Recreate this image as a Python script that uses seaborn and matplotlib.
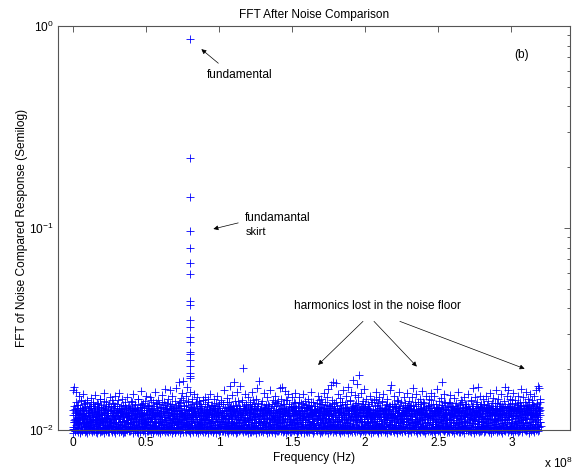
import numpy as np
import pandas as pd
import matplotlib
matplotlib.use("Agg")
import matplotlib.pyplot as plt
import seaborn as sns
from matplotlib.ticker import FixedLocator, LogLocator, NullFormatter

# noise floor, one value per frequency bin (units of 1e-4)
noise_floor_e4 = [
    101, 158, 112, 163, 104, 127, 99, 118, 155, 108, 133, 102, 121, 147, 110, 98, 125, 106, 139, 115,
    100, 129, 109, 151, 103, 117, 136, 105, 122, 99, 113, 141, 107, 126, 101, 119, 131, 104, 111, 144,
    106, 123, 100, 137, 114, 102, 128, 109, 149, 116, 98, 124, 105, 112, 134, 101, 120, 108, 143, 103,
    127, 111, 99, 118, 130, 106, 153, 113, 102, 125, 107, 138, 100, 115, 121, 104, 132, 110, 98, 146,
    112, 103, 126, 108, 140, 99, 119, 105, 131, 114, 101, 148, 110, 123, 100, 135, 107, 117, 102, 128,
    152, 106, 113, 99, 124, 109, 142, 104, 120, 111, 98, 133, 105, 116, 127, 101, 145, 108, 122, 103,
    118, 100, 129, 107, 113, 139, 102, 124, 110, 99, 150, 115, 104, 121, 133, 106, 111, 98, 126, 143,
    103, 117, 108, 130, 101, 122, 114, 156, 105, 119, 100, 136, 109, 125, 102, 112, 147, 107, 118, 99,
    104, 132, 111, 100, 123, 145, 106, 115, 101, 128, 109, 138, 98, 119, 105, 154, 113, 102, 126, 108,
    134, 100, 117, 141, 103, 121, 110, 99, 130, 106, 149, 114, 101, 124, 107, 137, 104, 116, 159, 102,
    110, 127, 99, 142, 105, 118, 101, 135, 112, 157, 103, 122, 108, 147, 100, 129, 115, 106, 139, 98,
    124, 161, 104, 117, 109, 133, 102, 173, 111, 126, 100, 144, 107, 120, 152, 103, 175, 113, 131, 105,
    119, 101, 148, 108, 164, 114, 102, 137, 106, 125, 99, 155, 111, 130, 104, 143, 117, 100, 128, 109,
    150, 103, 121, 136, 98, 113, 146, 105, 124, 101, 139, 110, 118, 102, 132, 107, 127, 100, 115, 141,
    103, 122, 109, 145, 100, 117, 131, 105, 112, 99, 138, 108, 126, 101, 151, 114, 104, 120, 133, 98,
    111, 142, 106, 124, 102, 129, 116, 100, 147, 109, 119, 103, 135, 107, 125, 99, 113, 140, 105, 121,
    111, 100, 134, 107, 158, 115, 102, 126, 109, 144, 99, 121, 105, 137, 113, 101, 130, 165, 104, 118,
    108, 149, 100, 124, 173, 106, 117, 139, 102, 127, 110, 98, 155, 114, 103, 132, 108, 122, 166, 101,
    119, 106, 141, 100, 203, 112, 128, 104, 150, 109, 99, 133, 116, 102, 146, 107, 123, 101, 138, 113,
    105, 127, 98, 154, 110, 120, 103, 135, 108, 117, 100, 143, 106, 125, 162, 111, 102, 131, 114, 175,
    104, 124, 110, 99, 139, 106, 117, 101, 152, 113, 103, 129, 108, 121, 100, 145, 115, 105, 134, 98,
    119, 109, 157, 102, 126, 112, 100, 140, 107, 118, 132, 104, 111, 148, 101, 123, 106, 136, 99, 114,
    116, 102, 161, 108, 127, 100, 143, 111, 164, 105, 120, 134, 99, 113, 156, 103, 125, 109, 140, 101,
    118, 150, 106, 131, 98, 114, 128, 104, 146, 110, 122, 100, 137, 107, 119, 153, 102, 126, 112, 99,
    108, 130, 101, 119, 145, 105, 112, 99, 136, 115, 103, 124, 109, 150, 100, 121, 107, 139, 113, 102,
    128, 98, 143, 110, 117, 104, 133, 106, 126, 101, 155, 111, 120, 100, 138, 108, 115, 131, 103, 123,
    101, 127, 113, 100, 148, 106, 119, 104, 135, 110, 99, 142, 116, 102, 129, 108, 153, 103, 122, 111,
    137, 100, 118, 146, 105, 125, 160, 109, 114, 132, 101, 167, 107, 120, 141, 103, 172, 112, 126, 100,
    114, 105, 170, 101, 131, 109, 150, 103, 123, 116, 99, 144, 107, 128, 100, 138, 112, 104, 158, 110,
    119, 102, 135, 106, 147, 113, 100, 125, 108, 163, 101, 121, 140, 105, 117, 155, 103, 129, 111, 176,
    107, 124, 100, 149, 112, 136, 103, 168, 109, 118, 145, 101, 187, 114, 127, 105, 152, 99, 121, 110,
    139, 102, 116, 160, 106, 130, 100, 143, 113, 119, 104, 134, 108, 125, 99, 147, 111, 122, 102, 137,
    103, 118, 110, 141, 100, 126, 106, 113, 154, 101, 122, 108, 136, 99, 117, 145, 104, 129, 111, 100,
    139, 107, 120, 102, 150, 114, 105, 127, 98, 133, 109, 116, 143, 103, 124, 100, 131, 112, 106, 158,
    112, 167, 104, 135, 100, 122, 109, 148, 116, 102, 130, 106, 119, 99, 141, 110, 125, 103, 155, 108,
    117, 101, 137, 113, 100, 128, 105, 146, 111, 121, 99, 133, 107, 115, 152, 102, 124, 109, 139, 104,
    100, 131, 108, 119, 146, 103, 114, 161, 106, 125, 101, 138, 111, 99, 150, 109, 122, 104, 134, 115,
    100, 128, 107, 143, 102, 118, 112, 156, 105, 127, 99, 136, 110, 120, 103, 148, 108, 116, 101, 132,
    117, 104, 142, 109, 126, 100, 153, 112, 103, 135, 107, 121, 99, 147, 114, 105, 130, 101, 160, 110,
    118, 102, 139, 106, 124, 100, 144, 113, 108, 172, 103, 127, 111, 150, 99, 119, 136, 105, 122, 101,
    109, 125, 100, 138, 114, 103, 120, 149, 106, 112, 99, 131, 117, 101, 144, 108, 123, 104, 136, 110,
    100, 127, 115, 102, 154, 107, 119, 133, 98, 113, 141, 105, 124, 101, 129, 111, 103, 146, 108, 118,
    102, 134, 110, 120, 100, 151, 106, 127, 113, 99, 140, 104, 118, 132, 108, 162, 101, 123, 112, 145,
    103, 116, 100, 138, 107, 126, 164, 105, 119, 111, 148, 99, 130, 109, 121, 102, 142, 114, 106, 135,
    115, 101, 128, 108, 147, 104, 122, 110, 139, 100, 117, 153, 106, 131, 102, 125, 113, 99, 144, 109,
    120, 103, 136, 107, 158, 111, 100, 129, 105, 142, 118, 102, 134, 112, 124, 99, 150, 108, 116, 104,
    106, 139, 100, 163, 112, 125, 103, 147, 109, 118, 101, 157, 114, 130, 105, 143, 99, 121, 110, 136,
    102, 152, 107, 127, 115, 100, 141, 108, 119, 133, 104, 148, 111, 123, 99, 138, 106, 129, 160, 102,
    113, 100, 145, 108, 124, 103, 137, 110, 155, 101, 119, 131, 106, 142, 99, 127, 114, 150, 104, 121,
    109, 140, 102, 133, 116, 100, 148, 107, 125, 112, 158, 103, 136, 118, 166, 105, 129, 161, 110, 143,
]

# the in-between bins, mostly hugging the bottom of the plot
noise_floor_mid_e4 = [
    103, 97, 110, 101, 118, 99, 106, 123, 100, 112, 98, 104, 115, 102, 108, 97, 120, 105, 100, 113,
    99, 107, 126, 101, 109, 98, 116, 103, 100, 111, 105, 97, 121, 102, 108, 99, 114, 104, 131, 100,
    98, 109, 102, 117, 100, 105, 99, 112, 124, 101, 107, 97, 114, 103, 100, 119, 106, 98, 110, 102,
    128, 99, 104, 113, 100, 108, 97, 122, 101, 106, 99, 115, 103, 111, 98, 100, 118, 105, 102, 109,
    106, 100, 113, 98, 104, 121, 101, 108, 99, 116, 103, 97, 110, 105, 100, 125, 102, 107, 98, 114,
    101, 104, 119, 99, 111, 100, 106, 97, 117, 103, 109, 101, 98, 123, 105, 100, 112, 102, 107, 99,
    101, 115, 104, 99, 108, 100, 127, 103, 110, 97, 105, 118, 101, 99, 113, 106, 100, 121, 102, 97,
    109, 104, 116, 100, 98, 111, 107, 101, 133, 99, 105, 114, 102, 100, 108, 97, 120, 103, 106, 100,
    109, 99, 104, 122, 100, 107, 98, 113, 102, 116, 101, 97, 106, 119, 100, 103, 111, 99, 105, 126,
    101, 98, 108, 114, 100, 104, 97, 117, 102, 110, 99, 106, 101, 124, 103, 100, 112, 98, 107, 101,
    100, 112, 103, 98, 118, 105, 101, 109, 99, 129, 102, 106, 97, 114, 100, 104, 120, 101, 98, 111,
    107, 100, 116, 103, 99, 108, 136, 102, 105, 97, 113, 100, 122, 104, 101, 110, 98, 117, 106, 100,
    104, 98, 115, 101, 107, 100, 124, 103, 99, 111, 105, 97, 119, 102, 108, 100, 113, 98, 106, 127,
    101, 104, 99, 116, 103, 100, 110, 97, 121, 105, 101, 108, 99, 114, 102, 106, 100, 118, 103, 98,
    107, 101, 98, 113, 104, 100, 120, 102, 109, 97, 116, 105, 100, 103, 125, 99, 108, 101, 111, 98,
    104, 117, 100, 106, 102, 97, 114, 101, 109, 123, 100, 103, 98, 110, 105, 100, 119, 102, 107, 99,
    99, 110, 102, 117, 100, 105, 98, 121, 103, 108, 101, 97, 114, 106, 100, 128, 102, 99, 111, 104,
    100, 116, 98, 107, 101, 124, 103, 100, 109, 97, 113, 105, 101, 119, 99, 106, 102, 112, 100, 104,
    105, 100, 118, 103, 98, 110, 101, 126, 99, 107, 104, 100, 115, 102, 97, 112, 106, 101, 120, 98,
    104, 109, 100, 131, 102, 99, 113, 105, 100, 117, 103, 97, 108, 101, 122, 104, 100, 111, 98, 106,
    102, 114, 99, 106, 100, 119, 104, 98, 111, 101, 127, 103, 100, 108, 97, 116, 105, 101, 110, 99,
    123, 102, 106, 100, 113, 98, 104, 118, 101, 107, 100, 97, 115, 103, 109, 100, 121, 99, 105, 102,
    108, 100, 103, 121, 99, 105, 112, 101, 98, 117, 104, 100, 109, 126, 102, 97, 106, 114, 100, 103,
    99, 119, 107, 101, 111, 98, 104, 130, 100, 106, 102, 113, 99, 108, 101, 124, 103, 100, 110, 97,
    101, 107, 99, 115, 103, 100, 122, 105, 98, 110, 101, 117, 104, 100, 97, 112, 106, 102, 128, 99,
    104, 109, 100, 116, 103, 98, 107, 101, 120, 105, 100, 111, 97, 114, 102, 106, 99, 125, 104, 100,
    106, 99, 112, 102, 118, 100, 104, 97, 124, 107, 101, 110, 98, 115, 103, 100, 129, 105, 99, 108,
    102, 120, 100, 106, 97, 113, 104, 101, 117, 99, 109, 103, 100, 134, 105, 98, 111, 102, 107, 100,
    100, 116, 104, 98, 109, 101, 123, 103, 100, 111, 97, 106, 119, 102, 99, 113, 105, 100, 127, 101,
    98, 108, 104, 115, 100, 102, 110, 97, 121, 106, 101, 99, 114, 103, 100, 118, 105, 98, 112, 102,
    103, 100, 120, 98, 106, 113, 101, 99, 126, 104, 102, 109, 100, 117, 97, 105, 111, 101, 103, 132,
    99, 107, 100, 114, 102, 98, 119, 104, 101, 108, 100, 123, 106, 99, 110, 103, 97, 116, 101, 105,
    110, 101, 98, 114, 104, 100, 119, 102, 107, 99, 111, 105, 97, 124, 101, 103, 100, 116, 106, 98,
    108, 102, 121, 100, 104, 113, 99, 101, 127, 105, 100, 109, 97, 117, 103, 101, 112, 99, 106, 100,
    99, 107, 103, 118, 100, 105, 98, 111, 122, 101, 104, 100, 115, 97, 108, 102, 129, 100, 106, 99,
    113, 103, 101, 120, 98, 105, 110, 100, 117, 102, 99, 107, 125, 101, 104, 97, 114, 100, 109, 103,
    104, 112, 100, 98, 117, 102, 106, 101, 124, 99, 109, 103, 100, 114, 105, 97, 120, 101, 107, 100,
    111, 98, 104, 128, 102, 100, 108, 99, 116, 103, 101, 113, 97, 106, 121, 100, 104, 102, 110, 99,
    101, 106, 115, 99, 103, 100, 121, 104, 98, 110, 102, 117, 100, 107, 97, 113, 105, 101, 126, 99,
    104, 109, 100, 119, 103, 98, 112, 106, 101, 133, 100, 105, 99, 116, 102, 108, 100, 123, 104, 98,
    107, 100, 102, 113, 98, 105, 119, 101, 104, 99, 116, 103, 100, 110, 97, 125, 102, 106, 100, 112,
    99, 104, 118, 101, 108, 98, 103, 114, 100, 122, 105, 99, 109, 102, 100, 117, 97, 106, 111, 101,
    100, 109, 104, 120, 99, 102, 112, 100, 106, 127, 101, 98, 115, 103, 100, 108, 97, 119, 105, 101,
    111, 99, 123, 102, 104, 100, 114, 98, 107, 101, 130, 103, 99, 110, 100, 117, 105, 102, 98, 113,
    105, 99, 111, 101, 117, 103, 100, 108, 98, 123, 104, 101, 113, 100, 97, 106, 120, 102, 99, 110,
    104, 100, 126, 101, 107, 98, 115, 103, 100, 112, 99, 105, 121, 102, 108, 100, 97, 118, 104, 101,
    102, 114, 100, 107, 99, 121, 103, 101, 110, 98, 116, 105, 100, 128, 102, 99, 108, 104, 113, 100,
    97, 119, 106, 101, 111, 99, 103, 124, 100, 105, 117, 98, 102, 109, 101, 133, 100, 106, 112, 103,
    98, 106, 112, 101, 104, 120, 100, 99, 115, 103, 108, 100, 125, 102, 97, 110, 105, 101, 118, 99,
    104, 113, 100, 107, 129, 102, 98, 111, 104, 100, 122, 101, 106, 99, 116, 103, 100, 109, 119, 105,
]

# quarter-step bins, filling the 0.011-0.014 band
noise_floor_quarter_e4 = [
    118, 126, 109, 131, 121, 114, 137, 124, 111, 128, 119, 133, 107, 122, 116, 129, 112, 140, 120, 125,
    113, 127, 119, 108, 134, 122, 117, 130, 110, 124, 138, 115, 121, 106, 128, 118, 132, 123, 112, 126,
    129, 116, 122, 135, 111, 120, 127, 114, 131, 119, 107, 125, 136, 117, 123, 110, 130, 121, 142, 115,
    120, 133, 112, 118, 126, 109, 123, 139, 116, 128, 121, 113, 131, 119, 105, 127, 122, 134, 114, 124,
    111, 125, 130, 117, 121, 136, 108, 124, 119, 129, 115, 132, 122, 110, 126, 118, 141, 123, 113, 128,
    124, 119, 114, 132, 106, 127, 121, 116, 133, 111, 125, 120, 137, 117, 128, 112, 122, 130, 109, 119,
    117, 131, 125, 110, 122, 118, 138, 114, 126, 121, 107, 129, 116, 134, 120, 124, 111, 127, 119, 143,
    126, 112, 120, 129, 117, 135, 123, 108, 121, 130, 118, 114, 128, 122, 139, 115, 125, 110, 131, 120,
    114, 128, 133, 119, 111, 124, 116, 127, 140, 120, 113, 126, 121, 109, 132, 118, 123, 136, 117, 125,
    122, 117, 110, 126, 134, 120, 129, 113, 118, 123, 137, 111, 124, 130, 116, 121, 106, 127, 133, 119,
    128, 121, 136, 115, 123, 112, 125, 131, 119, 108, 127, 122, 117, 134, 113, 126, 120, 129, 111, 124,
    115, 130, 118, 124, 109, 132, 121, 117, 126, 138, 114, 120, 128, 112, 123, 141, 118, 125, 131, 116,
    121, 109, 127, 133, 118, 122, 114, 139, 120, 125, 130, 116, 111, 127, 135, 119, 124, 113, 128, 122,
    130, 123, 116, 120, 137, 111, 128, 122, 107, 131, 119, 125, 134, 121, 117, 129, 112, 123, 140, 118,
    112, 126, 121, 135, 114, 124, 119, 130, 123, 116, 142, 120, 127, 108, 125, 133, 118, 121, 114, 129,
    125, 118, 132, 111, 127, 120, 136, 117, 129, 122, 113, 128, 119, 131, 123, 110, 138, 116, 124, 121,
    119, 134, 113, 126, 122, 115, 129, 124, 118, 137, 121, 110, 130, 125, 114, 127, 120, 132, 117, 106,
    127, 115, 123, 131, 108, 125, 118, 122, 133, 114, 128, 124, 116, 120, 139, 112, 126, 119, 129, 123,
    116, 122, 138, 120, 126, 113, 131, 119, 111, 127, 124, 135, 118, 122, 109, 130, 121, 115, 134, 126,
    123, 129, 117, 112, 124, 140, 120, 127, 116, 121, 132, 114, 126, 119, 128, 117, 136, 122, 110, 125,
    120, 114, 127, 134, 118, 121, 111, 125, 130, 119, 123, 128, 107, 133, 120, 124, 115, 129, 126, 113,
    131, 124, 110, 122, 129, 117, 135, 121, 125, 113, 118, 137, 122, 116, 126, 131, 119, 112, 124, 139,
    117, 127, 121, 116, 133, 124, 109, 128, 120, 134, 115, 123, 129, 118, 113, 127, 141, 121, 117, 122,
    124, 118, 135, 126, 112, 119, 130, 114, 127, 122, 117, 132, 120, 125, 136, 110, 123, 128, 119, 115,
    113, 131, 120, 124, 137, 116, 122, 126, 109, 129, 121, 118, 134, 124, 117, 130, 112, 125, 121, 133,
    128, 120, 116, 130, 121, 110, 127, 118, 132, 123, 138, 114, 126, 121, 108, 124, 131, 119, 127, 117,
    122, 136, 125, 114, 119, 128, 123, 140, 117, 112, 126, 130, 119, 135, 122, 115, 120, 127, 113, 124,
    118, 112, 129, 123, 133, 120, 115, 124, 131, 126, 110, 121, 128, 117, 132, 125, 118, 106, 129, 136,
    126, 124, 118, 137, 114, 127, 121, 111, 125, 119, 133, 123, 116, 129, 120, 138, 113, 124, 122, 118,
    114, 130, 122, 119, 128, 108, 134, 126, 121, 116, 124, 120, 139, 112, 127, 121, 130, 117, 125, 131,
    129, 117, 133, 125, 120, 123, 116, 130, 112, 136, 118, 127, 122, 125, 114, 128, 119, 134, 110, 123,
    121, 126, 111, 128, 135, 117, 124, 119, 127, 122, 129, 109, 131, 120, 126, 117, 123, 115, 137, 120,
    116, 123, 127, 113, 122, 131, 118, 142, 120, 114, 125, 133, 119, 124, 111, 129, 122, 128, 116, 126,
    125, 138, 120, 124, 116, 126, 112, 121, 129, 118, 123, 115, 135, 127, 121, 107, 126, 131, 120, 119,
    120, 115, 130, 118, 127, 122, 135, 116, 124, 131, 113, 128, 121, 117, 139, 123, 118, 125, 129, 112,
    132, 121, 117, 126, 111, 129, 120, 125, 118, 123, 136, 119, 126, 130, 115, 124, 133, 110, 122, 127,
    117, 128, 124, 133, 120, 114, 126, 131, 122, 108, 127, 121, 116, 125, 132, 119, 114, 138, 123, 121,
    124, 119, 112, 127, 134, 121, 118, 123, 137, 125, 120, 130, 113, 122, 126, 128, 121, 117, 131, 116,
    119, 133, 126, 115, 122, 128, 141, 117, 124, 119, 114, 126, 129, 120, 123, 111, 135, 124, 119, 128,
    127, 122, 118, 130, 113, 124, 121, 128, 116, 133, 125, 118, 123, 138, 117, 127, 120, 126, 112, 130,
    115, 126, 131, 121, 119, 136, 112, 125, 130, 120, 127, 122, 109, 129, 124, 118, 132, 121, 127, 117,
    128, 118, 124, 109, 129, 123, 126, 119, 134, 115, 121, 137, 125, 117, 130, 123, 116, 128, 135, 122,
    121, 130, 116, 125, 132, 118, 120, 127, 113, 124, 139, 119, 128, 121, 114, 126, 131, 120, 117, 125,
    118, 124, 135, 120, 126, 111, 129, 122, 125, 131, 117, 123, 116, 134, 127, 120, 124, 109, 128, 133,
    126, 117, 122, 128, 115, 133, 124, 118, 127, 121, 130, 126, 119, 112, 125, 136, 121, 129, 123, 114,
    123, 129, 119, 114, 127, 122, 136, 125, 120, 117, 124, 131, 127, 122, 118, 128, 113, 126, 132, 120,
    130, 121, 125, 132, 119, 116, 123, 129, 112, 126, 134, 120, 124, 117, 131, 122, 127, 118, 125, 140,
    117, 125, 128, 121, 135, 124, 118, 126, 130, 122, 115, 127, 136, 121, 126, 119, 124, 131, 116, 123,
    124, 131, 116, 127, 120, 129, 122, 114, 133, 125, 128, 121, 118, 130, 123, 137, 120, 125, 129, 119,
    121, 118, 134, 123, 126, 117, 131, 124, 120, 128, 122, 135, 119, 127, 113, 124, 130, 121, 126, 138,
]
bin_step_hz = 3.2e5

# fundamental and its skirt, all sitting at 80 MHz
spike_freq_hz = 0.8e8
spike_vals = [0.865, 0.223, 0.143, 0.0966, 0.0795, 0.067, 0.059, 0.0433, 0.0414, 0.0352,
              0.0322, 0.029, 0.0274, 0.0244, 0.0239, 0.0223, 0.0208, 0.0192, 0.0186, 0.0181]

xtick_vals = [0, 0.5e8, 1e8, 1.5e8, 2e8, 2.5e8, 3e8]
xtick_labels = ["0", "0.5", "1", "1.5", "2", "2.5", "3"]

df = pd.DataFrame({
    "freq": np.concatenate([np.arange(len(noise_floor_e4)) * bin_step_hz,
                            (np.arange(len(noise_floor_mid_e4)) + 0.5) * bin_step_hz,
                            (np.arange(len(noise_floor_quarter_e4)) + 0.25) * bin_step_hz,
                            np.full(len(spike_vals), spike_freq_hz)]),
    "mag": np.concatenate([np.array(noise_floor_e4) * 1e-4,
                           np.array(noise_floor_mid_e4) * 1e-4,
                           np.array(noise_floor_quarter_e4) * 1e-4,
                           spike_vals]),
})

sns.set_theme(style="white")
plt.rcParams["font.family"] = ["Liberation Sans", "DejaVu Sans"]
plt.rcParams["mathtext.fontset"] = "custom"
plt.rcParams["mathtext.rm"] = "Liberation Sans"
plt.rcParams["mathtext.it"] = "Liberation Sans:italic"
plt.rcParams["text.color"] = "black"
plt.rcParams["axes.labelcolor"] = "black"
plt.rcParams["xtick.labelcolor"] = "black"
plt.rcParams["ytick.labelcolor"] = "black"

FS = 8.6

fig = plt.figure(figsize=(5.77, 4.70), dpi=100)
ax = fig.add_axes([58 / 577, 1 - 430 / 470, 512 / 577, 404 / 470])

sns.lineplot(data=df, x="freq", y="mag", estimator=None, sort=False, linestyle="",
             marker="+", markersize=6, markeredgewidth=0.6, markeredgecolor="blue",
             color="blue", ax=ax, legend=False, clip_on=False)

ax.set_yscale("log")
ax.set_xlim(-0.1e8, 3.4e8)
ax.set_ylim(1e-2, 1e0)
ax.xaxis.set_major_locator(FixedLocator(xtick_vals))
ax.set_xticklabels(xtick_labels)
ax.yaxis.set_major_locator(LogLocator(base=10, numticks=5))
ax.yaxis.set_minor_locator(LogLocator(base=10, subs=np.arange(2, 10), numticks=20))
ax.yaxis.set_minor_formatter(NullFormatter())

ax.tick_params(which="both", direction="in", top=True, right=True, labelsize=FS,
               color="#444444", width=0.6)
ax.tick_params(axis="x", pad=5)
ax.tick_params(axis="y", pad=3)
ax.tick_params(which="major", length=4)
ax.tick_params(which="minor", length=2.5)
for sp in ax.spines.values():
    sp.set_color("#555555")
    sp.set_linewidth(0.8)

ax.set_title("FFT After Noise Comparison", fontsize=FS, pad=6)
ax.set_xlabel("Frequency (Hz)", fontsize=FS, labelpad=2)
ax.set_ylabel("FFT of Noise Compared Response (Semilog)", fontsize=FS, labelpad=1)
fig.text(544 / 577, 1 - 463 / 470, r"x 10$^{8}$", fontsize=FS, ha="left", va="center")

arrow = dict(arrowstyle="-|>", color="black", lw=0.5, mutation_scale=7, shrinkA=0, shrinkB=0)
ax.annotate("", xy=(0.88e8, 0.768), xytext=(0.996e8, 0.654), arrowprops=arrow)
ax.text(0.92e8, 0.57, "fundamental", fontsize=FS, ha="left", va="center")

ax.annotate("", xy=(0.962e8, 0.0989), xytext=(1.132e8, 0.106), arrowprops=arrow)
ax.text(1.18e8, 0.112, "fundamantal", fontsize=FS, ha="left", va="center")
ax.text(1.18e8, 0.0955, "skirt", fontsize=FS - 0.6, ha="left", va="center")

ax.text(1.514e8, 0.0409, "harmonics lost in the noise floor", fontsize=FS, ha="left", va="center")
ax.annotate("", xy=(1.678e8, 0.0210), xytext=(1.985e8, 0.0345), arrowprops=arrow)
ax.annotate("", xy=(2.353e8, 0.0206), xytext=(2.06e8, 0.0345), arrowprops=arrow)
ax.annotate("", xy=(3.09e8, 0.0201), xytext=(2.237e8, 0.0345), arrowprops=arrow)

ax.text(3.02e8, 0.717, "(b)", fontsize=FS, ha="left", va="center")

fig.savefig("out.png", dpi=100)
